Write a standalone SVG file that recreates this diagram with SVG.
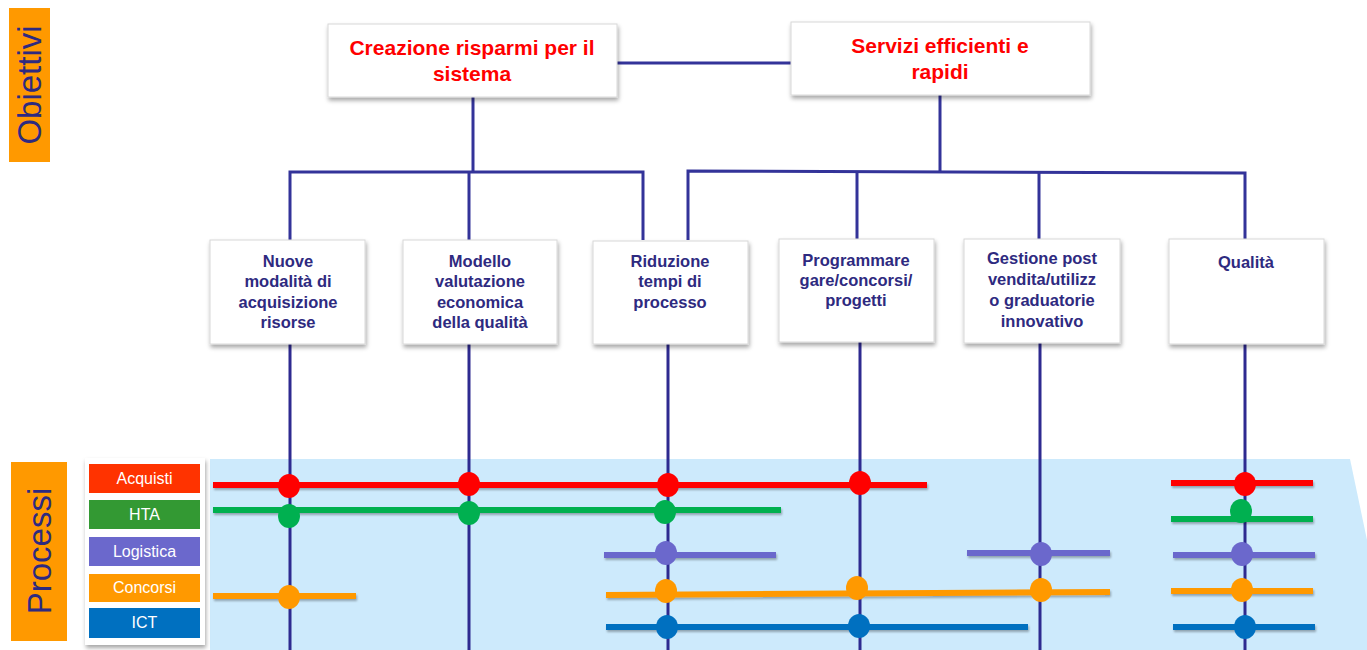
<svg xmlns="http://www.w3.org/2000/svg" width="1367" height="650" viewBox="0 0 1367 650">
<defs>
<filter id="sh" x="-10%" y="-10%" width="120%" height="130%">
<feDropShadow dx="1" dy="3" stdDeviation="2" flood-color="#000" flood-opacity="0.35"/>
</filter>
<filter id="lsh" filterUnits="userSpaceOnUse" x="0" y="0" width="1367" height="650">
<feDropShadow dx="1" dy="2" stdDeviation="1.2" flood-color="#000" flood-opacity="0.3"/>
</filter>
</defs>
<style>
.box{fill:#fff;stroke:#d8d8d8;stroke-width:1;filter:url(#sh)}
.top{font-family:"Liberation Sans",Arial,sans-serif;font-weight:bold;font-size:21px;fill:#ff0000;text-anchor:middle}
.mid{font-family:"Liberation Sans",Arial,sans-serif;font-weight:bold;font-size:16.5px;fill:#2e2a80;text-anchor:middle}
.side{font-family:"Liberation Sans",Arial,sans-serif;font-size:33px;fill:#2e2a80;text-anchor:middle}
.lbl{font-family:"Liberation Sans",Arial,sans-serif;font-size:16px;fill:#fff;text-anchor:middle}
.con{stroke:#333399;stroke-width:3;fill:none}
.vl{stroke:#2e2a90;stroke-width:3;fill:none}
.pl{stroke-width:6;fill:none;filter:url(#lsh)}
.r{stroke:#ff0000}.g{stroke:#00b050}.p{stroke:#6b68cc}.o{stroke:#ff9900}.b{stroke:#0070c0}
.rf{fill:#ff0000}.gf{fill:#00b050}.pf{fill:#6b68cc}.of{fill:#ff9900}.bf{fill:#0070c0}
</style>
<rect width="1367" height="650" fill="#fff"/>
<!-- side labels -->
<g id="obiettivi">
<rect x="9" y="8" width="41" height="154" fill="#ff9900"/>
<text class="side" transform="translate(41,85) rotate(-90)">Obiettivi</text>
</g>
<g id="processi">
<rect x="11" y="462" width="56" height="179" fill="#ff9900"/>
<text class="side" transform="translate(51,551) rotate(-90)">Processi</text>
</g>
<!-- band -->
<polygon points="210,459 1350,459 1367,540 1367,650 210,650" fill="#cdeafc"/>
<!-- connectors -->
<g id="connectors">
<line class="con" x1="617" y1="63" x2="791" y2="63"/>
<line class="con" x1="473" y1="97" x2="473" y2="172"/>
<polyline class="con" points="290,240 290,172 643,172 643,240"/>
<line class="con" x1="469" y1="172" x2="469" y2="240"/>
<line class="con" x1="940" y1="95" x2="940" y2="172"/>
<polyline class="con" points="688,240 688,171 1245,173 1245,239"/>
<line class="con" x1="857" y1="172" x2="857" y2="239"/>
<line class="con" x1="1039" y1="172" x2="1039" y2="239"/>
<line class="vl" x1="290" y1="344" x2="290" y2="650"/>
<line class="vl" x1="469" y1="344" x2="469" y2="650"/>
<line class="vl" x1="668" y1="344" x2="668" y2="650"/>
<line class="vl" x1="860" y1="342" x2="860" y2="650"/>
<line class="vl" x1="1040" y1="343" x2="1040" y2="650"/>
<line class="vl" x1="1245" y1="344" x2="1245" y2="650"/>
</g>
<!-- top nodes -->
<g id="creazione">
<rect class="box" x="328" y="24" width="289" height="73"/>
<text class="top" x="472" y="55">Creazione risparmi per il</text>
<text class="top" x="472" y="81">sistema</text>
</g>
<g id="servizi">
<rect class="box" x="791" y="22" width="299" height="73"/>
<text class="top" x="940" y="53">Servizi efficienti e</text>
<text class="top" x="940" y="79">rapidi</text>
</g>
<!-- middle nodes -->
<g id="nuove">
<rect class="box" x="210" y="240" width="155" height="104"/>
<text class="mid" x="288" y="267">Nuove</text>
<text class="mid" x="288" y="287">modalità  di</text>
<text class="mid" x="288" y="308">acquisizione</text>
<text class="mid" x="288" y="328">risorse</text>
</g>
<g id="modello">
<rect class="box" x="403" y="240" width="154" height="104"/>
<text class="mid" x="480" y="267">Modello</text>
<text class="mid" x="480" y="287">valutazione</text>
<text class="mid" x="480" y="308">economica</text>
<text class="mid" x="480" y="328">della qualità</text>
</g>
<g id="riduzione">
<rect class="box" x="593" y="241" width="155" height="103"/>
<text class="mid" x="670" y="267">Riduzione</text>
<text class="mid" x="670" y="287">tempi di</text>
<text class="mid" x="670" y="308">processo</text>
</g>
<g id="programmare">
<rect class="box" x="779" y="239" width="155" height="103"/>
<text class="mid" x="856" y="266">Programmare</text>
<text class="mid" x="856" y="286">gare/concorsi/</text>
<text class="mid" x="856" y="306">progetti</text>
</g>
<g id="gestione">
<rect class="box" x="964" y="239" width="156" height="104"/>
<text class="mid" x="1042" y="264">Gestione post</text>
<text class="mid" x="1042" y="285">vendita/utilizz</text>
<text class="mid" x="1042" y="306">o graduatorie</text>
<text class="mid" x="1042" y="327">innovativo</text>
</g>
<g id="qualita">
<rect class="box" x="1169" y="239" width="155" height="105"/>
<text class="mid" x="1246" y="268">Qualità</text>
</g>
<!-- process legend -->
<g id="legend">
<rect x="85" y="458" width="120" height="187" fill="#fff" filter="url(#sh)"/>
<rect x="89" y="464" width="111" height="29" fill="#ff3300"/>
<text class="lbl" x="144.5" y="484">Acquisti</text>
<rect x="89" y="500" width="111" height="29" fill="#339933"/>
<text class="lbl" x="144.5" y="520">HTA</text>
<rect x="89" y="537" width="111" height="29" fill="#6b68cc"/>
<text class="lbl" x="144.5" y="557">Logistica</text>
<rect x="89" y="574" width="111" height="28" fill="#ff9900"/>
<text class="lbl" x="144.5" y="593">Concorsi</text>
<rect x="89" y="608" width="111" height="30" fill="#0070c0"/>
<text class="lbl" x="144.5" y="628">ICT</text>
</g>
<!-- process lines -->
<g id="process-lines">
<line class="pl r" x1="213" y1="485" x2="927" y2="485"/>
<line class="pl r" x1="1171" y1="483" x2="1313" y2="483"/>
<line class="pl g" x1="213" y1="510" x2="781" y2="510"/>
<line class="pl g" x1="1171" y1="519" x2="1313" y2="519"/>
<line class="pl p" x1="604" y1="555" x2="776" y2="555"/>
<line class="pl p" x1="967" y1="553" x2="1110" y2="553"/>
<line class="pl p" x1="1173" y1="555" x2="1315" y2="555"/>
<line class="pl o" x1="213" y1="596" x2="356" y2="596"/>
<line class="pl o" x1="606" y1="595" x2="1110" y2="592"/>
<line class="pl o" x1="1171" y1="591" x2="1313" y2="591"/>
<line class="pl b" x1="606" y1="627" x2="1028" y2="627"/>
<line class="pl b" x1="1173" y1="627" x2="1315" y2="627"/>
</g>
<g id="dots">
<ellipse class="rf" cx="289" cy="486" rx="11" ry="12"/>
<ellipse class="rf" cx="469" cy="484" rx="11" ry="12"/>
<ellipse class="rf" cx="668" cy="485" rx="11" ry="12"/>
<ellipse class="rf" cx="860" cy="483" rx="11" ry="12"/>
<ellipse class="rf" cx="1245" cy="484" rx="11" ry="12"/>
<ellipse class="gf" cx="289" cy="516" rx="11" ry="12"/>
<ellipse class="gf" cx="469" cy="513" rx="11" ry="12"/>
<ellipse class="gf" cx="665" cy="512" rx="11" ry="12"/>
<ellipse class="gf" cx="1241" cy="511" rx="11" ry="12"/>
<ellipse class="pf" cx="666" cy="553" rx="11" ry="12"/>
<ellipse class="pf" cx="1041" cy="554" rx="11" ry="12"/>
<ellipse class="pf" cx="1242" cy="554" rx="11" ry="12"/>
<ellipse class="of" cx="289" cy="597" rx="11" ry="12"/>
<ellipse class="of" cx="666" cy="591" rx="11" ry="12"/>
<ellipse class="of" cx="857" cy="588" rx="11" ry="12"/>
<ellipse class="of" cx="1041" cy="590" rx="11" ry="12"/>
<ellipse class="of" cx="1242" cy="590" rx="11" ry="12"/>
<ellipse class="bf" cx="667" cy="627" rx="11" ry="12"/>
<ellipse class="bf" cx="859" cy="626" rx="11" ry="12"/>
<ellipse class="bf" cx="1245" cy="627" rx="11" ry="12"/>
</g>
</svg>
